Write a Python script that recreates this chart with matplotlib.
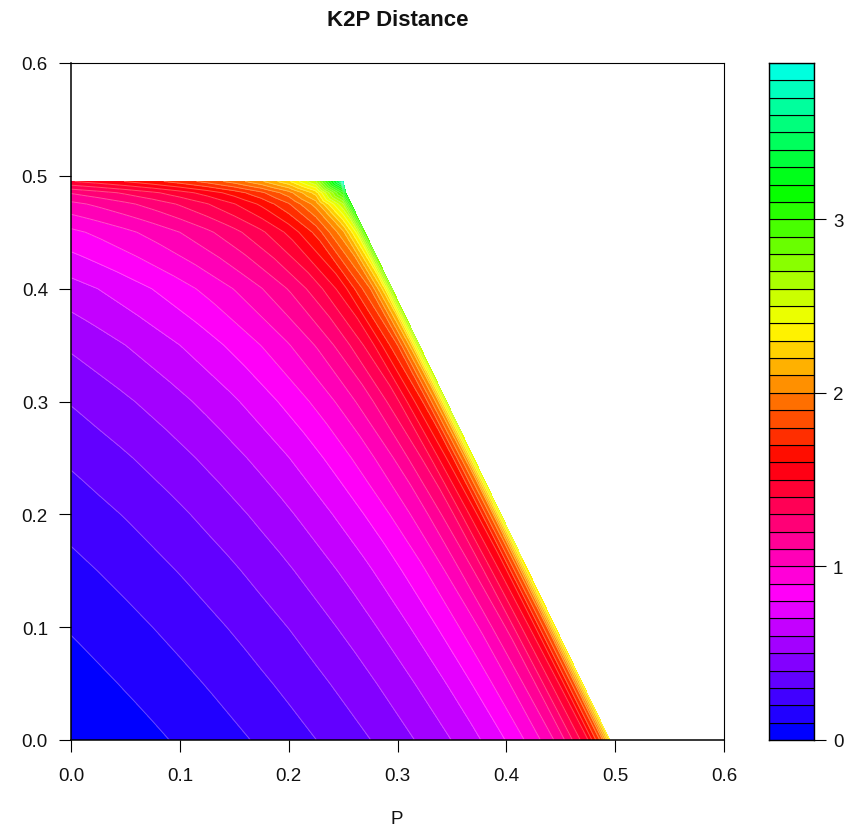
import colorsys
import numpy as np
import matplotlib
matplotlib.use("Agg")
import matplotlib.pyplot as plt
import matplotlib.tri as mtri

plt.rcParams['font.family'] = ['Liberation Sans', 'DejaVu Sans']

TITLE = "K2P Distance"
X_LABEL = "P"
AXIS_TICKS = [0.0, 0.1, 0.2, 0.3, 0.4, 0.5, 0.6]
BAR_TICKS = [0, 1, 2, 3]
LEVELS = [i / 10 for i in range(40)]

# Transversion proportion (Q) of each row of readings
Q_ROWS = [0.0, 0.05, 0.1, 0.15, 0.2, 0.25, 0.3, 0.35, 0.4, 0.45, 0.475, 0.485, 0.495]

# Distance readings along each row: at P = 0, 0.025, 0.05 ... and then at the edge
D_000 = [0, .026, .053, .081, .112, .144, .178, .215, .255, .299, .347, .399, .458, .525, .602, .693, .805, .949, 1.151, 1.498, 1.844, 2.303]
D_005 = [.052, .079, .108, .138, .170, .205, .242, .282, .325, .373, .425, .484, .551, .628, .719, .831, .975, 1.178, 1.524, 1.871, 2.329]
D_010 = [.108, .137, .167, .200, .234, .271, .311, .355, .402, .455, .514, .581, .658, .749, .861, 1.004, 1.207, 1.554, 1.900, 2.358]
D_015 = [.170, .201, .233, .268, .305, .345, .388, .436, .488, .547, .614, .691, .782, .894, 1.038, 1.241, 1.587, 1.934, 2.392]
D_020 = [.239, .272, .306, .343, .383, .427, .474, .527, .586, .653, .730, .821, .932, 1.076, 1.279, 1.626, 1.972, 2.430]
D_025 = [.317, .352, .389, .429, .472, .520, .573, .631, .698, .775, .866, .978, 1.122, 1.325, 1.671, 2.018, 2.476]
D_030 = [.407, .445, .485, .528, .576, .628, .687, .754, .831, .922, 1.034, 1.178, 1.380, 1.727, 2.074, 2.532]
D_035 = [.516, .556, .600, .648, .700, .759, .826, .903, .994, 1.106, 1.250, 1.452, 1.799, 2.145, 2.604]
D_040 = [.658, .701, .749, .802, .861, .927, 1.004, 1.096, 1.207, 1.351, 1.554, 1.900, 2.247, 2.705]
D_045 = [.875, .922, .975, 1.034, 1.100, 1.178, 1.269, 1.380, 1.524, 1.727, 2.073, 2.420, 2.878]
D_0475 = [1.071, 1.121, 1.177, 1.239, 1.311, 1.394, 1.495, 1.621, 1.789, 2.044, 2.593, 3.052]
D_0485 = [1.209, 1.260, 1.317, 1.381, 1.455, 1.541, 1.646, 1.778, 1.958, 2.244, 2.977, 3.180]
D_0495 = [1.493, 1.545, 1.603, 1.669, 1.745, 1.834, 1.944, 2.084, 2.278, 2.601, 3.454, 3.800]
D_ROWS = [D_000, D_005, D_010, D_015, D_020, D_025, D_030, D_035, D_040, D_045, D_0475, D_0485, D_0495]

# P of the last readings of each row, next to the slanted edge
P_EDGE = [
    [.4875, .495], [.4625, .47], [.4375, .445], [.4125, .42], [.3875, .395], [.3625, .37],
    [.3375, .345], [.3125, .32], [.2875, .295], [.2625, .27], [.2575], [.2525], [.2475, .25],
]

px, py, pz, starts = [], [], [], []
for q, row, edge in zip(Q_ROWS, D_ROWS, P_EDGE):
    n_grid = len(row) - len(edge)
    ps = [i * 0.025 for i in range(n_grid)] + edge
    starts.append(len(px))
    px += ps
    py += [q] * len(ps)
    pz += row

# Mesh between neighbouring rows, walked from the slanted edge towards P = 0,
# so that cell sides run along the slanted bands.
triangles = []
for r in range(len(Q_ROWS) - 1):
    a, b = len(D_ROWS[r]) - 1, len(D_ROWS[r + 1]) - 1
    s0, s1 = starts[r], starts[r + 1]
    while a > 0 and b > 0:
        triangles.append([s0 + a, s1 + b, s0 + a - 1])
        triangles.append([s0 + a - 1, s1 + b, s1 + b - 1])
        a -= 1
        b -= 1
    while a > 0:
        triangles.append([s0 + a, s1, s0 + a - 1])
        a -= 1
    while b > 0:
        triangles.append([s0, s1 + b, s1 + b - 1])
        b -= 1

n_bands = len(LEVELS) - 1
colors = [colorsys.hsv_to_rgb(((240 + i * 300 / n_bands) % 360) / 360, 1, 1) for i in range(n_bands)]

W, H = 853, 828
fig = plt.figure(figsize=(W / 100, H / 100), dpi=100)


def box(x0, y0, x1, y1):
    return [x0 / W, 1 - y1 / H, (x1 - x0) / W, (y1 - y0) / H]


FS = 13.5
ax = fig.add_axes(box(71, 64, 724, 741))
tri = mtri.Triangulation(px, py, triangles)
ax.tricontourf(tri, pz, levels=LEVELS, colors=colors, antialiased=False)
ax.tricontour(tri, pz, levels=LEVELS, colors='white', linewidths=0.7, alpha=0.3)
ax.set_xlim(0, 0.6)
ax.set_ylim(0, 0.6)
ax.set_xticks(AXIS_TICKS)
ax.set_yticks(AXIS_TICKS)
ax.set_xticklabels([f"{t:.1f}" for t in AXIS_TICKS])
ax.set_yticklabels([f"{t:.1f}" for t in AXIS_TICKS])
ax.tick_params(length=8.6, width=0.8, labelsize=FS, color='black', labelcolor='#111111')
ax.tick_params(axis='x', pad=11)
ax.tick_params(axis='y', pad=8)
for s in ax.spines.values():
    s.set_linewidth(0.8)
for side in ('left', 'bottom'):
    ax.spines[side].set_linewidth(1.1)
ax.set_axisbelow(False)
fig.text(397 / W, 1 - 820 / H, X_LABEL, ha='center', va='center', fontsize=FS, color='#111111')
fig.text(398 / W, 1 - 20 / H, TITLE, ha='center', va='center', fontsize=16, fontweight='bold', color='#111111')

cax = fig.add_axes(box(769, 64, 814, 741))
for lo, hi, c in zip(LEVELS[:-1], LEVELS[1:], colors):
    cax.bar(0.5, hi - lo, width=1, bottom=lo, color=c, edgecolor='black', linewidth=0.8)
cax.set_xlim(0, 1)
cax.set_ylim(LEVELS[0], LEVELS[-1])
cax.set_xticks([])
cax.yaxis.tick_right()
cax.set_yticks(BAR_TICKS)
cax.tick_params(length=8.6, width=0.8, labelsize=FS, pad=5, labelcolor='#111111')
for s in cax.spines.values():
    s.set_linewidth(1.0)

fig.savefig("out.png", dpi=100)
